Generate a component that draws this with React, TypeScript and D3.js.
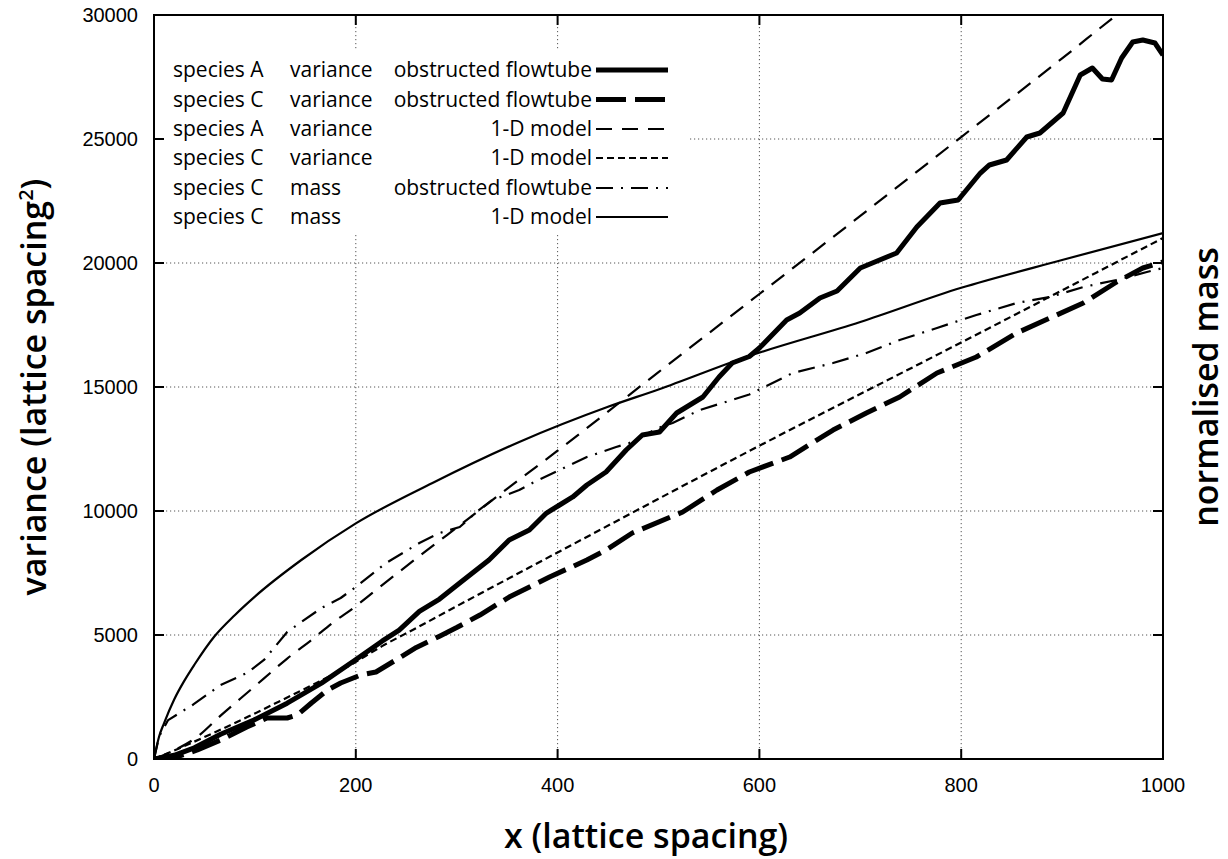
import React from "react";
import * as d3 from "d3";

// ---------- data ----------
const xTicks = [0, 200, 400, 600, 800, 1000];
const yTicks = [0, 5000, 10000, 15000, 20000, 25000, 30000];

// species A variance, obstructed flowtube (thick solid)
const aObsX = [0, 20, 40, 66, 99, 132, 166, 198, 226, 243, 263, 283, 303, 332, 352, 372, 389, 402, 415, 429, 448, 468, 484, 501, 518, 531, 544, 560, 573, 590, 600, 627, 640, 660, 677, 700, 736, 756, 779, 797, 819, 828, 845, 865, 878, 901, 918, 930, 940, 949, 959, 970, 980, 992, 1000];
const aObsY = [0, 150, 450, 1000, 1570, 2250, 3060, 3950, 4750, 5200, 5950, 6450, 7097, 8024, 8830, 9234, 9919, 10242, 10565, 11048, 11573, 12460, 13065, 13185, 13952, 14274, 14597, 15403, 15968, 16230, 16573, 17702, 17984, 18589, 18870, 19798, 20403, 21452, 22419, 22540, 23629, 23952, 24153, 25081, 25242, 26048, 27581, 27863, 27419, 27379, 28266, 28911, 28992, 28871, 28387];

// species C variance, obstructed flowtube (thick dashed)
const cObsX = [0, 22, 43, 66, 92, 112, 132, 142, 156, 172, 185, 205, 220, 240, 260, 283, 300, 323, 352, 392, 429, 448, 474, 524, 558, 590, 630, 673, 706, 739, 776, 815, 855, 888, 921, 954, 980, 1000];
const cObsY = [0, 80, 363, 766, 1290, 1653, 1653, 1774, 2258, 2782, 3065, 3387, 3508, 4000, 4500, 4950, 5300, 5806, 6532, 7339, 8024, 8427, 9113, 9960, 10847, 11573, 12177, 13266, 13952, 14597, 15565, 16210, 17177, 17782, 18387, 19234, 19798, 20040];

// species A variance, 1-D model (dashed)
const aModX = [0, 20, 43, 66, 86, 109, 132, 156, 179, 198, 218, 270, 312, 342, 399, 500, 600, 700, 800, 900, 954, 1000];
const aModY = [0, 350, 900, 1750, 2450, 3250, 4050, 4800, 5550, 6100, 6750, 8400, 9700, 10650, 12400, 15600, 18750, 21900, 25080, 28250, 30000, 31450];

// species C variance, 1-D model (short dashed)
const cModX = [0, 28, 61, 94, 127, 161, 193, 226, 260, 293, 399, 590, 799, 1000];
const cModY = [0, 484, 1089, 1720, 2379, 3065, 3750, 4550, 5282, 6008, 8306, 12420, 16774, 21008];

// species C mass, obstructed flowtube (dash-dot)
const mObsX = [0, 5, 14, 39, 66, 92, 109, 132, 146, 166, 185, 200, 230, 263, 283, 303, 322, 335, 349, 362, 375, 402, 429, 441, 458, 471, 500, 514, 541, 573, 590, 633, 673, 706, 739, 776, 815, 855, 888, 921, 954, 984, 1000];
const mObsY = [0, 900, 1570, 2200, 2984, 3468, 3992, 5121, 5524, 6089, 6492, 6935, 7903, 8710, 9113, 9355, 10040, 10444, 10645, 10847, 11129, 11653, 12177, 12339, 12580, 12742, 13350, 13548, 14073, 14476, 14700, 15565, 15968, 16371, 16895, 17379, 17903, 18387, 18629, 19032, 19315, 19637, 19798];

// species C mass, 1-D model (thin solid)
const mModX = [0, 5, 10, 20, 30, 40, 60, 80, 100, 146, 200, 276, 362, 450, 500, 587, 700, 800, 900, 1000];
const mModY = [0, 900, 1450, 2400, 3150, 3800, 4950, 5800, 6550, 8024, 9500, 11129, 12782, 14200, 14900, 16210, 17620, 19000, 20120, 21210];

const legendCol1 = ["species A", "species C", "species A", "species C", "species C", "species C"];
const legendCol2 = ["variance", "variance", "variance", "variance", "mass", "mass"];
const legendCol3 = ["obstructed flowtube", "obstructed flowtube", "1-D model", "1-D model", "obstructed flowtube", "1-D model"];

// ---------- layout ----------
const W = 1228;
const H = 859;
const L = 154, R = 1163, T = 15, B = 759;

const styles = [
  { w: 5, dash: "none", smooth: false },
  { w: 5, dash: "30 9", smooth: false },
  { w: 2.2, dash: "16 10", smooth: true },
  { w: 2.2, dash: "7 4", smooth: true },
  { w: 2.2, dash: "17 8 2 8", smooth: false },
  { w: 2.2, dash: "none", smooth: true },
];

export default function App() {
  const x = d3.scaleLinear().domain([0, 1000]).range([L, R]);
  const y = d3.scaleLinear().domain([0, 30000]).range([B, T]);

  const series = [
    [aObsX, aObsY],
    [cObsX, cObsY],
    [aModX, aModY],
    [cModX, cModY],
    [mObsX, mObsY],
    [mModX, mModY],
  ];

  const mk = (smooth: boolean) =>
    d3
      .line<[number, number]>()
      .x((d) => x(d[0]))
      .y((d) => y(d[1]))
      .curve(smooth ? d3.curveMonotoneX : d3.curveLinear);

  const paths = series.map(([xs, ys], i) => {
    const pts = xs.map((v, j) => [v, ys[j]] as [number, number]);
    return mk(styles[i].smooth)(pts) || "";
  });

  const tickFont = "'Liberation Sans', Arial, sans-serif";
  const titleFont = "'Open Sans', 'DejaVu Sans', sans-serif";

  const rowY = [70, 99.5, 129, 158, 188, 217];

  return (
    <svg
      width={W}
      height={H}
      style={{ position: "absolute", left: 0, top: 0, background: "#fff" }}
    >
      <defs>
        <clipPath id="plotclip">
          <rect x={L} y={T} width={R - L} height={B - T} />
        </clipPath>
      </defs>
      <rect x={0} y={0} width={W} height={H} fill="#fff" />

      {/* grid */}
      {xTicks
        .filter((t) => t > 0 && t < 1000)
        .map((t) => (
          <line key={"gx" + t} x1={x(t)} x2={x(t)} y1={T} y2={B} stroke="#555" strokeWidth={1} strokeDasharray="1.2 2.8" />
        ))}
      {yTicks
        .filter((t) => t > 0 && t < 30000)
        .map((t) => (
          <line key={"gy" + t} x1={L} x2={R} y1={y(t)} y2={y(t)} stroke="#555" strokeWidth={1} strokeDasharray="1.2 2.8" />
        ))}

      {/* legend background */}
      <rect x={L + 1} y={50} width={534} height={185} fill="#fff" />

      {/* curves */}
      <g clipPath="url(#plotclip)">
        {paths.map((p, i) => (
          <path
            key={"p" + i}
            d={p}
            fill="none"
            stroke="#000"
            strokeWidth={styles[i].w}
            strokeDasharray={styles[i].dash}
            strokeLinejoin="round"
            strokeLinecap="butt"
          />
        ))}
      </g>

      {/* ticks */}
      {xTicks.map((t) => (
        <g key={"tx" + t}>
          <line x1={x(t)} x2={x(t)} y1={B} y2={B - 10} stroke="#000" strokeWidth={2} />
          <line x1={x(t)} x2={x(t)} y1={T} y2={T + 10} stroke="#000" strokeWidth={2} />
          <text x={x(t)} y={792} textAnchor="middle" fontFamily={tickFont} fontSize={20}>
            {t}
          </text>
        </g>
      ))}
      {yTicks.map((t) => (
        <g key={"ty" + t}>
          <line x1={L} x2={L + 10} y1={y(t)} y2={y(t)} stroke="#000" strokeWidth={2} />
          <line x1={R} x2={R - 10} y1={y(t)} y2={y(t)} stroke="#000" strokeWidth={2} />
          <text x={138} y={y(t) + 7} textAnchor="end" fontFamily={tickFont} fontSize={20}>
            {t}
          </text>
        </g>
      ))}

      {/* border */}
      <rect x={L} y={T} width={R - L} height={B - T} fill="none" stroke="#000" strokeWidth={2} />

      {/* legend */}
      {rowY.map((ry, i) => (
        <g key={"lg" + i} fontFamily={titleFont} fontSize={21} fontWeight={500}>
          <text x={173} y={ry + 7}>{legendCol1[i]}</text>
          <text x={290} y={ry + 7}>{legendCol2[i]}</text>
          <text x={592} y={ry + 7} textAnchor="end">{legendCol3[i]}</text>
          <line
            x1={596}
            x2={668}
            y1={ry}
            y2={ry}
            stroke="#000"
            strokeWidth={styles[i].w}
            strokeDasharray={styles[i].dash}
          />
        </g>
      ))}

      {/* axis titles */}
      <text x={646} y={848} textAnchor="middle" fontFamily={titleFont} fontSize={34} fontWeight={600}>
        x (lattice spacing)
      </text>
      <text
        transform={`translate(46, ${(T + B) / 2}) rotate(-90)`}
        textAnchor="middle"
        fontFamily={titleFont}
        fontSize={34}
        fontWeight={600}
      >
        variance (lattice spacing
        <tspan dy={-13} fontSize={20}>2</tspan>
        <tspan dy={13}>)</tspan>
      </text>
      <text
        transform={`translate(1218, ${(T + B) / 2}) rotate(-90)`}
        textAnchor="middle"
        fontFamily={titleFont}
        fontSize={34}
        fontWeight={600}
      >
        normalised mass
      </text>
    </svg>
  );
}
